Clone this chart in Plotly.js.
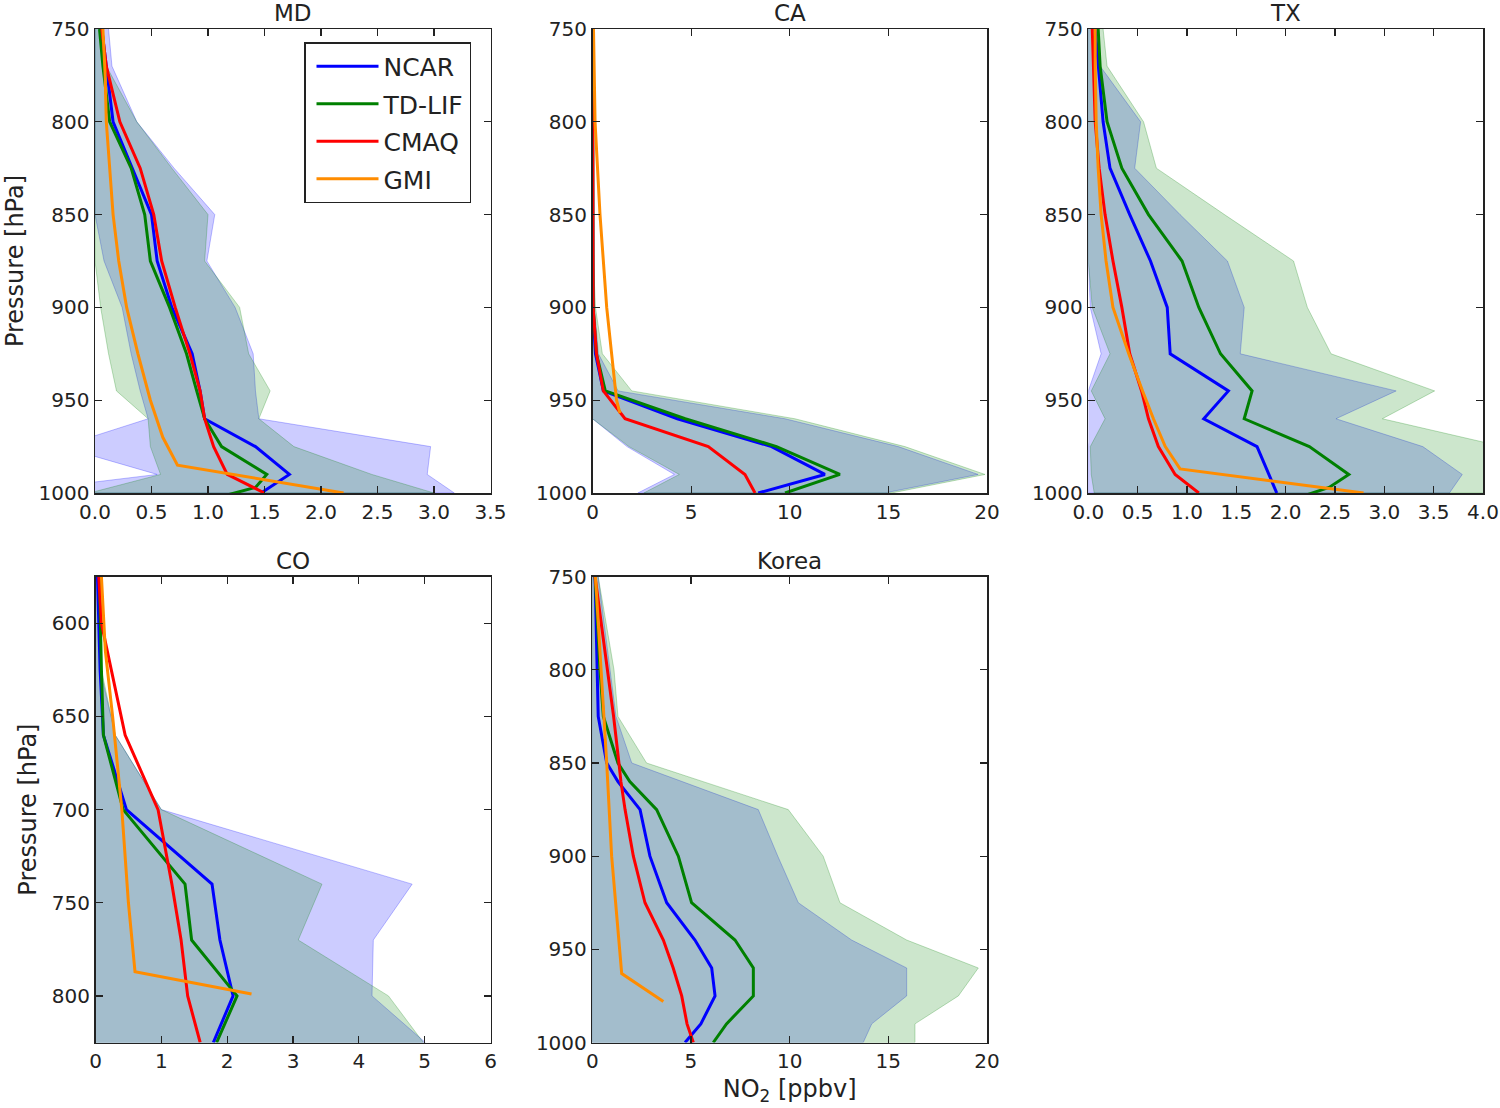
<!DOCTYPE html>
<html><head><meta charset="utf-8">
<script src="https://cdn.plot.ly/plotly-3.0.1.min.js"></script>
<style>html,body{margin:0;padding:0;background:#fff}#chart{width:1500px;height:1108px}</style>
</head><body><div id="chart"></div>
<script>
// ---------------- data ----------------
const seriesNames = ['NCAR', 'TD-LIF', 'CMAQ', 'GMI'];
const panelTitles = ['MD', 'CA', 'TX', 'CO', 'Korea'];

// common pressure levels (hPa) for MD, CA, TX
const pTop = [750, 770, 800, 825, 850, 875, 900, 925, 945, 960, 975, 990, 1000];

// ---- MD ----
const mdNcar     = [0.06, 0.10, 0.16, 0.33, 0.50, 0.55, 0.68, 0.86, 0.93, 0.97, 1.42, 1.72, 1.47];
const mdTdlifP   = [750, 770, 800, 825, 850, 875, 900, 925, 945, 960, 975, 990, 997, 1003];
const mdTdlif    = [0.04, 0.07, 0.13, 0.32, 0.44, 0.49, 0.66, 0.81, 0.90, 0.97, 1.12, 1.52, 1.42, 1.05];
const mdCmaq     = [0.06, 0.10, 0.22, 0.40, 0.52, 0.59, 0.71, 0.84, 0.93, 0.97, 1.05, 1.17, 1.50];
const mdGmiP     = [750, 775, 800, 825, 850, 875, 900, 925, 950, 970, 985, 1000];
const mdGmi      = [0.07, 0.09, 0.10, 0.13, 0.16, 0.21, 0.28, 0.38, 0.49, 0.60, 0.73, 2.20];
const mdNcarMax  = [0.12, 0.15, 0.37, 0.70, 1.06, 0.99, 1.24, 1.40, 1.42, 1.45, 2.97, 2.94, 3.18];
const mdNcarMin  = [0, 0, 0, 0, 0, 0.08, 0.24, 0.32, 0.40, 0.47, -0.30, 0.55, -0.80];
const mdTdlifMax = [0.06, 0.10, 0.37, 0.68, 1.00, 0.97, 1.28, 1.36, 1.55, 1.45, 1.76, 2.45, 3.00];
const mdTdlifMin = [0, 0, 0, 0, 0, 0, 0.05, 0.12, 0.19, 0.47, 0.49, 0.58, -0.05];

// ---- CA ----
const caNcar     = [0, 0, 0, 0, 0, 0, 0.02, 0.15, 0.55, 4.30, 9.08, 11.78, 8.40];
const caTdlif    = [0, 0, 0, 0, 0, 0, 0.03, 0.20, 0.65, 4.70, 9.33, 12.54, 9.76];
const caCmaq     = [0, 0, 0, 0, 0, 0, 0.03, 0.20, 0.55, 1.65, 5.87, 7.73, 8.24];
const caGmiP     = [750, 800, 850, 900, 925, 950, 957];
const caGmi      = [0.05, 0.13, 0.38, 0.72, 0.97, 1.22, 1.39];
const caNcarMax  = [0, 0, 0, 0, 0, 0.05, 0.10, 0.30, 1.30, 9.76, 15.50, 19.55, 14.80];
const caNcarMin  = [0, 0, 0, 0, 0, 0, 0, 0, 0, 0, 1.75, 4.15, 2.30];
const caTdlifMax = [0, 0, 0, 0, 0, 0.05, 0.15, 0.50, 1.99, 10.26, 15.84, 19.90, 15.16];
const caTdlifMin = [0, 0, 0, 0, 0, 0, 0, 0, 0, 0, 1.85, 4.40, 2.60];

// ---- TX ----
const txNcar     = [0.07, 0.10, 0.15, 0.22, 0.42, 0.63, 0.80, 0.83, 1.42, 1.17, 1.71, 1.83, 1.91];
const txTdlifP   = [750, 770, 800, 825, 850, 875, 900, 925, 945, 960, 975, 990, 997, 1003];
const txTdlif    = [0.10, 0.12, 0.19, 0.34, 0.61, 0.95, 1.12, 1.34, 1.66, 1.58, 2.24, 2.64, 2.44, 2.10];
const txCmaq     = [0.04, 0.05, 0.07, 0.11, 0.17, 0.25, 0.34, 0.42, 0.54, 0.61, 0.71, 0.88, 1.12];
const txGmiP     = [750, 770, 800, 825, 850, 875, 900, 925, 945, 960, 975, 987, 1000];
const txGmi      = [0.07, 0.07, 0.08, 0.10, 0.13, 0.18, 0.25, 0.41, 0.55, 0.66, 0.78, 0.93, 2.79];
const txNcarMax  = [0.10, 0.12, 0.53, 0.47, 0.93, 1.41, 1.58, 1.54, 3.12, 2.51, 3.39, 3.79, 3.66];
const txNcarMin  = [0, 0, 0, 0, 0, 0, 0.02, 0.13, 0, -0.05, 0, 0, 0];
const txTdlifMax = [0.15, 0.19, 0.56, 0.69, 1.38, 2.08, 2.22, 2.46, 3.51, 2.98, 4.20, 4.40, 4.30];
const txTdlifMin = [0, 0, 0, 0, 0, 0, 0.04, 0.22, 0.03, 0.17, 0.02, 0.03, 0.06];

// ---- CO ----
const coP        = [575, 600, 625, 660, 700, 740, 770, 800, 825];
const coNcar     = [0.03, 0.05, 0.07, 0.12, 0.47, 1.77, 1.89, 2.09, 1.79];
const coTdlif    = [0.06, 0.07, 0.09, 0.12, 0.42, 1.36, 1.46, 2.15, 1.84];
const coCmaq     = [0.05, 0.09, 0.24, 0.45, 0.95, 1.16, 1.30, 1.40, 1.59];
const coGmiP     = [575, 615, 650, 700, 750, 787, 799];
const coGmi      = [0.09, 0.15, 0.26, 0.40, 0.50, 0.60, 2.37];
const coNcarMax  = [0.03, 0.05, 0.07, 0.30, 1.00, 4.81, 4.22, 4.20, 5.01];
const coNcarMin  = [0, 0, 0, 0, 0, 0, 0, 0, 0];
const coTdlifMax = [0.06, 0.07, 0.09, 0.30, 1.00, 3.44, 3.08, 4.45, 4.98];
const coTdlifMin = [0, 0, 0, 0, 0, 0, 0, 0, 0];

// ---- Korea ----
const krP        = [750, 775, 800, 825, 850, 860, 875, 900, 925, 945, 960, 975, 990, 1000];
const krNcar     = [0.14, 0.20, 0.25, 0.30, 0.73, 1.30, 2.42, 2.92, 3.77, 5.20, 6.05, 6.22, 5.50, 4.70];
const krTdlif    = [0.14, 0.25, 0.39, 0.56, 1.30, 1.90, 3.26, 4.36, 5.03, 7.23, 8.16, 8.16, 6.80, 6.13];
const krCmaq     = [0.14, 0.45, 0.76, 1.08, 1.35, 1.45, 1.66, 2.08, 2.67, 3.60, 4.10, 4.53, 4.80, 5.12];
const krGmiP     = [750, 800, 850, 900, 963, 978];
const krGmi      = [0.16, 0.45, 0.73, 0.98, 1.49, 3.60];
const krNcarMax  = [0.30, 0.60, 0.90, 1.20, 2.00, 4.56, 8.41, 9.40, 10.44, 13.14, 15.93, 15.93, 14.16, 13.73];
const krNcarMin  = [0, 0, 0, 0, 0, 0, 0, 0, 0, 0, 0, 0, 0, 0];
const krTdlifMax = [0.30, 0.70, 1.10, 1.30, 2.75, 5.62, 9.93, 11.70, 12.55, 15.93, 19.56, 18.55, 16.35, 16.35];
const krTdlifMin = [0, 0, 0, 0, 0, 0, 0, 0, 0, 0, 0, 0, 0, 0];

// ---------------- panel table (built from the arrays) ----------------
const panels = [
  {lines: [[pTop, mdNcar], [mdTdlifP, mdTdlif], [pTop, mdCmaq], [mdGmiP, mdGmi]],
   bands: [[pTop, mdNcarMax, mdNcarMin], [pTop, mdTdlifMax, mdTdlifMin]]},
  {lines: [[pTop, caNcar], [pTop, caTdlif], [pTop, caCmaq], [caGmiP, caGmi]],
   bands: [[pTop, caNcarMax, caNcarMin], [pTop, caTdlifMax, caTdlifMin]]},
  {lines: [[pTop, txNcar], [txTdlifP, txTdlif], [pTop, txCmaq], [txGmiP, txGmi]],
   bands: [[pTop, txNcarMax, txNcarMin], [pTop, txTdlifMax, txTdlifMin]]},
  {lines: [[coP, coNcar], [coP, coTdlif], [coP, coCmaq], [coGmiP, coGmi]],
   bands: [[coP, coNcarMax, coNcarMin], [coP, coTdlifMax, coTdlifMin]]},
  {lines: [[krP, krNcar], [krP, krTdlif], [krP, krCmaq], [krGmiP, krGmi]],
   bands: [[krP, krNcarMax, krNcarMin], [krP, krTdlifMax, krTdlifMin]]}
];

// ---------------- styles / geometry ----------------
const W = 1500, H = 1108;
const lineColors = ['#0000ff', '#008000', '#ff0000', '#ff8c00'];
const bandFill = ['rgba(0,0,255,0.2)', 'rgba(0,128,0,0.2)'];
const bandEdge = ['rgba(0,0,255,0.25)', 'rgba(0,128,0,0.25)'];
const FONT = 'DejaVu Sans, Bitstream Vera Sans, sans-serif';
const ink = '#222';

// pixel boxes [left, right, top, bottom]
const boxes = [
  [95, 490.5, 29, 493],
  [592.5, 987, 29, 493],
  [1088.3, 1483, 29, 493],
  [95.5, 490.5, 576.7, 1042.5],
  [592.3, 987, 576.7, 1042.5]
];
const xSpecs = [
  {range: [0, 3.5], dtick: 0.5, tickformat: '.1f'},
  {range: [0, 20], dtick: 5, tickformat: 'd'},
  {range: [0, 4.0], dtick: 0.5, tickformat: '.1f'},
  {range: [0, 6], dtick: 1, tickformat: 'd'},
  {range: [0, 20], dtick: 5, tickformat: 'd'}
];
const ySpecs = [
  {range: [1000, 750], tick0: 750},
  {range: [1000, 750], tick0: 750},
  {range: [1000, 750], tick0: 750},
  {range: [825, 575], tick0: 600},
  {range: [1000, 750], tick0: 750}
];

const axBase = {
  showline: true, linecolor: ink, linewidth: 1.5, mirror: 'ticks',
  ticks: 'inside', ticklen: 7, tickwidth: 1.2, tickcolor: ink,
  showgrid: false, zeroline: false, automargin: false, fixedrange: true,
  tickfont: {family: FONT, size: 20, color: ink}
};

const data = [];
const layout = {
  width: W, height: H,
  margin: {l: 0, r: 0, t: 0, b: 0},
  paper_bgcolor: '#fff', plot_bgcolor: '#fff',
  font: {family: FONT, color: ink},
  showlegend: true,
  legend: {
    x: 304 / W, y: 1 - 42 / H, xanchor: 'left', yanchor: 'top',
    bgcolor: '#fff', bordercolor: ink, borderwidth: 1.5,
    font: {family: FONT, size: 25, color: ink},
    itemwidth: 62, indentation: 6,
    tracegroupgap: 2
  },
  annotations: []
};

panels.forEach((pan, i) => {
  const sfx = i === 0 ? '' : String(i + 1);
  const xa = 'x' + sfx, ya = 'y' + sfx;
  const b = boxes[i];
  layout['xaxis' + sfx] = Object.assign({}, axBase, {
    domain: [b[0] / W, b[1] / W], anchor: ya,
    range: xSpecs[i].range, tickmode: 'linear', tick0: 0, dtick: xSpecs[i].dtick,
    tickformat: xSpecs[i].tickformat
  });
  layout['yaxis' + sfx] = Object.assign({}, axBase, {
    domain: [1 - b[3] / H, 1 - b[2] / H], anchor: xa,
    range: ySpecs[i].range, tickmode: 'linear', tick0: ySpecs[i].tick0, dtick: 50
  });
  if (i === 0 || i === 3) {
    layout['yaxis' + sfx].title = {text: 'Pressure [hPa]', font: {family: FONT, size: 24, color: ink}, standoff: 8};
  }
  if (i === 4) {
    layout['xaxis' + sfx].title = {text: 'NO<sub>2</sub> [ppbv]', font: {family: FONT, size: 24, color: ink}, standoff: 8};
  }
  // bands
  pan.bands.forEach((bd, k) => {
    const [pp, mx, mn] = bd;
    data.push({
      type: 'scatter', mode: 'lines', xaxis: xa, yaxis: ya,
      x: mx.concat(mn.slice().reverse()),
      y: pp.concat(pp.slice().reverse()),
      fill: 'toself', fillcolor: bandFill[k],
      line: {color: bandEdge[k], width: 1},
      hoverinfo: 'skip', showlegend: false
    });
  });
  // lines
  pan.lines.forEach((ln, k) => {
    data.push({
      type: 'scatter', mode: 'lines', xaxis: xa, yaxis: ya,
      x: ln[1], y: ln[0], name: seriesNames[k],
      legendgroup: seriesNames[k], showlegend: i === 0,
      line: {color: lineColors[k], width: 3}
    });
  });
  // panel title
  layout.annotations.push({
    text: panelTitles[i], xref: 'paper', yref: 'paper',
    x: (b[0] + b[1]) / 2 / W, y: 1 - b[2] / H, xanchor: 'center', yanchor: 'bottom',
    yshift: 1, showarrow: false, font: {family: FONT, size: 23, color: ink}
  });
});

Plotly.newPlot('chart', data, layout, {staticPlot: true, displayModeBar: false});
</script>
</body></html>
